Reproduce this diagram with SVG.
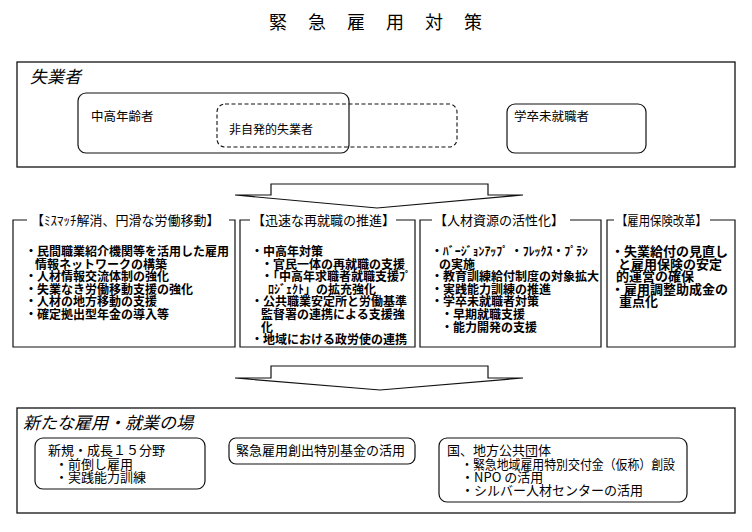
<svg xmlns="http://www.w3.org/2000/svg" width="752" height="532" viewBox="0 0 752 532">
<style>
text{font-family:"Noto Sans CJK JP","Noto Sans CJK SC",sans-serif;fill:#000}
.title{font-size:18px;letter-spacing:21px}
.big{font-size:17px;font-style:italic}
.t12{font-size:12.5px}
.t13{font-size:13px}
.hd{font-size:13px}
.col{font-size:12px;font-weight:bold}
.frame{fill:#fff;stroke:#111;stroke-width:1.3}
.rbox{fill:none;stroke:#111;stroke-width:1.2}
.dash{fill:none;stroke:#111;stroke-width:1.1;stroke-dasharray:4 2.5}
.ln{fill:none;stroke:#111;stroke-width:1.2}
.arrow{fill:#fff;stroke:#111;stroke-width:1.2;stroke-linejoin:miter}
</style>
<rect width="752" height="532" fill="#fff"/>
<text id="title" class="title" x="269" y="29">緊急雇用対策</text>

<g id="unemployed">
<rect class="frame" x="17" y="62" width="718" height="105"/>
<text class="big" x="30" y="83">失業者</text>
</g>
<g id="middle-aged">
<rect class="rbox" x="78" y="93" width="271" height="60" rx="8"/>
<text class="t12" x="91" y="121">中高年齢者</text>
</g>
<g id="involuntary">
<rect class="dash" x="217" y="104" width="240" height="43" rx="8"/>
<text class="t12" x="229" y="134" style="font-size:12px">非自発的失業者</text>
</g>
<g id="graduates">
<rect class="rbox" x="507" y="104" width="139" height="49" rx="8"/>
<text class="t12" x="514" y="121">学卒未就職者</text>
</g>

<g id="connectors">
<polygon class="arrow" points="235,195 271,195 271,184 488,184 488,195 523,195 377,208"/>
<polygon class="arrow" points="235,378 271,378 271,366 488,366 488,378 523,378 380,390"/>
</g>

<g id="col1">
<path class="ln" d="M27,220 H13 V347 H235 V220 H229"/>
<text class="hd" x="31" y="225">【ﾐｽﾏｯﾁ解消、円滑な労働移動】</text>
<text class="col" x="25" y="256">・民間職業紹介機関等を活用した雇用</text>
<text class="col" x="35" y="268.6">情報ネットワークの構築</text>
<text class="col" x="25" y="281.2">・人材情報交流体制の強化</text>
<text class="col" x="25" y="293.8">・失業なき労働移動支援の強化</text>
<text class="col" x="25" y="306.4">・人材の地方移動の支援</text>
<text class="col" x="25" y="319">・確定拠出型年金の導入等</text>
</g>

<g id="col2">
<path class="ln" d="M250,220 H240 V347 H415 V220 H396"/>
<text class="hd" x="252" y="225">【迅速な再就職の推進】</text>
<text class="col" x="251" y="256">・中高年対策</text>
<text class="col" x="261" y="268.6">・官民一体の再就職の支援</text>
<text class="col" x="261" y="281.2">・「中高年求職者就職支援ﾌﾟ</text>
<text class="col" x="268" y="293.8">ﾛｼﾞｪｸﾄ」の拡充強化</text>
<text class="col" x="251" y="306.4">・公共職業安定所と労働基準</text>
<text class="col" x="261" y="319">監督署の連携による支援強</text>
<text class="col" x="261" y="331.6">化</text>
<text class="col" x="251" y="344.2">・地域における政労使の連携</text>
</g>

<g id="col3">
<path class="ln" d="M432,220 H420 V347 H601 V220 H570"/>
<text class="hd" x="434" y="225">【人材資源の活性化】</text>
<text class="col" x="431" y="256" textLength="157" lengthAdjust="spacingAndGlyphs">・ﾊﾞｰｼﾞｮﾝｱｯﾌﾟ ・ﾌﾚｯｸｽ・ﾌﾟﾗﾝ</text>
<text class="col" x="439" y="268.6">の実施</text>
<text class="col" x="431" y="281.2">・教育訓練給付制度の対象拡大</text>
<text class="col" x="431" y="293.8">・実践能力訓練の推進</text>
<text class="col" x="431" y="306.4">・学卒未就職者対策</text>
<text class="col" x="441" y="319">・早期就職支援</text>
<text class="col" x="441" y="331.6">・能力開発の支援</text>
</g>

<g id="col4">
<path class="ln" d="M614,220 H607 V347 H735 V220 H710"/>
<text class="hd" x="616" y="225" textLength="91" lengthAdjust="spacingAndGlyphs">【雇用保険改革】</text>
<text class="col" x="611" y="256" style="font-size:13px">・失業給付の見直し</text>
<text class="col" x="618" y="268.6" style="font-size:13px">と雇用保険の安定</text>
<text class="col" x="616" y="281.2" style="font-size:13px">的運営の確保</text>
<text class="col" x="611" y="293.8" style="font-size:13px">・雇用調整助成金の</text>
<text class="col" x="619" y="306.4" style="font-size:13px">重点化</text>
</g>

<g id="new-jobs">
<rect class="frame" x="17" y="408" width="718" height="105"/>
<text class="big" x="23" y="429">新たな雇用・就業の場</text>
</g>
<g id="growth">
<rect class="rbox" x="35" y="438" width="170" height="51" rx="8"/>
<text class="t13" x="48" y="455">新規・成長１５分野</text>
<text class="t13" x="55" y="468.5">・前倒し雇用</text>
<text class="t13" x="55" y="482">・実践能力訓練</text>
</g>
<g id="fund">
<rect class="rbox" x="229" y="438" width="186" height="26" rx="7"/>
<text class="t13" x="236" y="455">緊急雇用創出特別基金の活用</text>
</g>
<g id="government">
<rect class="rbox" x="439" y="438" width="248" height="64" rx="8"/>
<text class="t13" x="447" y="455">国、地方公共団体</text>
<text class="t13" x="461" y="468.5" textLength="214" lengthAdjust="spacingAndGlyphs">・緊急地域雇用特別交付金（仮称）創設</text>
<text class="t13" x="461" y="482">・NPO の活用</text>
<text class="t13" x="461" y="495">・シルバー人材センターの活用</text>
</g>
</svg>
